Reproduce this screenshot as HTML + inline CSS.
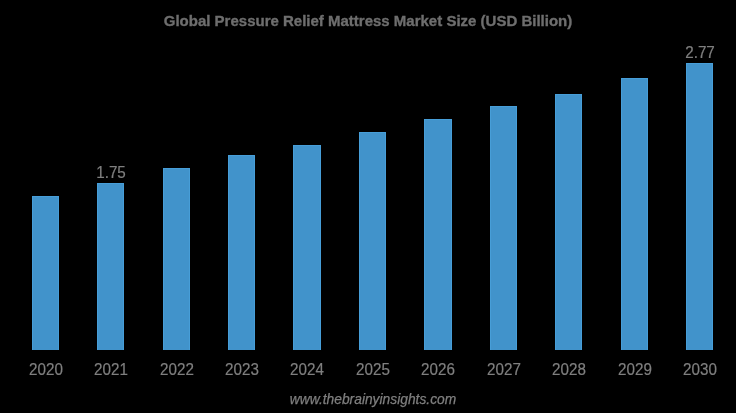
<!DOCTYPE html>
<html><head><meta charset="utf-8"><style>
html,body{margin:0;padding:0;}
body{width:736px;height:413px;background:#000;position:relative;overflow:hidden;font-family:"Liberation Sans",sans-serif;}
.bar{position:absolute;background:#4193cb;box-shadow:inset 1px 1px 0 #479ed8,inset -1px 0 0 #479ed8;}
.t{position:absolute;will-change:transform;white-space:nowrap;}
.yr{top:359.8px;width:80px;text-align:center;font-size:15.2px;line-height:20px;color:#7f7f7f;-webkit-text-stroke:0.2px #7f7f7f;transform:scaleY(1.05);transform-origin:50% 15.3px;}
.val{width:80px;text-align:center;font-size:15.2px;line-height:20px;color:#7f7f7f;-webkit-text-stroke:0.2px #7f7f7f;transform:scaleY(1.05);transform-origin:50% 15.3px;}
.title{left:0;width:736px;top:11px;text-align:center;font-weight:bold;font-size:15px;line-height:20px;color:#6e6e6e;-webkit-text-stroke:0.35px #6e6e6e;}
.foot{left:5px;width:736px;top:390px;text-align:center;font-style:italic;font-size:13.8px;line-height:20px;color:#7f7f7f;-webkit-text-stroke:0.25px #7f7f7f;}
</style></head><body>
<div class="t title">Global Pressure Relief Mattress Market Size (USD Billion)</div>
<div class="bar" style="left:32px;top:196px;width:27px;height:154px"></div>
<div class="t yr" style="left:5.5px">2020</div>
<div class="bar" style="left:97px;top:183px;width:27px;height:167px"></div>
<div class="t yr" style="left:70.5px">2021</div>
<div class="bar" style="left:163px;top:168px;width:27px;height:182px"></div>
<div class="t yr" style="left:136.5px">2022</div>
<div class="bar" style="left:228px;top:155px;width:27px;height:195px"></div>
<div class="t yr" style="left:201.5px">2023</div>
<div class="bar" style="left:293px;top:145px;width:28px;height:205px"></div>
<div class="t yr" style="left:267.0px">2024</div>
<div class="bar" style="left:359px;top:132px;width:27px;height:218px"></div>
<div class="t yr" style="left:332.5px">2025</div>
<div class="bar" style="left:424px;top:119px;width:28px;height:231px"></div>
<div class="t yr" style="left:398.0px">2026</div>
<div class="bar" style="left:490px;top:106px;width:27px;height:244px"></div>
<div class="t yr" style="left:463.5px">2027</div>
<div class="bar" style="left:555px;top:94px;width:27px;height:256px"></div>
<div class="t yr" style="left:528.5px">2028</div>
<div class="bar" style="left:621px;top:78px;width:27px;height:272px"></div>
<div class="t yr" style="left:594.5px">2029</div>
<div class="bar" style="left:686px;top:63px;width:27px;height:287px"></div>
<div class="t yr" style="left:659.5px">2030</div>
<div class="t val" style="left:71px;top:163px">1.75</div>
<div class="t val" style="left:659.5px;top:43px">2.77</div>
<div class="t foot">www.thebrainyinsights.com</div>
</body></html>
